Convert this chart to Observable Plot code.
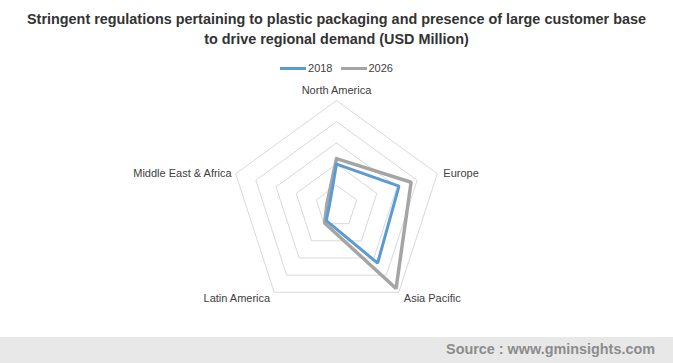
<!DOCTYPE html>
<html><head><meta charset="utf-8">
<script src="https://cdn.jsdelivr.net/npm/d3@7"></script>
<script src="https://cdn.jsdelivr.net/npm/@observablehq/plot@0.6"></script>
<style>
body{margin:0;background:#fff;font-family:"Liberation Sans",Arial,sans-serif;}
#wrap{position:relative;width:673px;height:363px;overflow:hidden;background:#fff}
#title{position:absolute;top:9px;left:0;width:673px;text-align:center;font-weight:bold;font-size:14.4px;line-height:20px;color:#333}
#legend{position:absolute;top:61px;left:0;width:673px;text-align:center;font-size:11px;color:#404040;line-height:14px}
#legend .item{display:inline-block;margin:0 4px}
#legend .sw{display:inline-block;width:26px;height:3px;vertical-align:middle;margin-right:2px;position:relative;top:-1px}
#chart{position:absolute;top:80px;left:0}
#footer{position:absolute;top:337px;left:0;width:673px;height:26px;background:#e8e8e8}
#footer span{position:absolute;right:18px;top:4px;font-weight:bold;font-size:14.4px;color:#8c8c8c}
</style>
</head><body>
<div id="wrap">
<div id="title">Stringent regulations pertaining to plastic packaging and presence of large customer base<br>to drive regional demand (USD Million)</div>
<div id="legend"></div>
<div id="chart"></div>
<div id="footer"><span>Source : www.gminsights.com</span></div>
</div>
<script>
const regions = ["North America","Europe","Asia Pacific","Latin America","Middle East & Africa"];
const years = ["2018","2026"];
const values2018 = [1000,1550,1650,410,170];
const values2026 = [1130,1850,2390,480,235];
const ringTicks = [500,1000,1500,2000,2500];
const yearColors = ["#5B9BD5","#A5A5A5"];

const n = regions.length;
const ang = i => (i % n) * 2 * Math.PI / n;
const px = (v,i) => v * Math.sin(ang(i));
const py = (v,i) => v * Math.cos(ang(i));

// rings
const rings = [];
ringTicks.forEach(t => { for (let i = 0; i <= n; i++) rings.push({ring:t, x:px(t,i), y:py(t,i)}); });
// series polygons
function poly(vals, year){ const a=[]; for(let i=0;i<=n;i++){ a.push({year, x:px(vals[i%n],i), y:py(vals[i%n],i)}); } return a; }
const s2018 = poly(values2018, years[0]);
const s2026 = poly(values2026, years[1]);

const maxV = ringTicks[ringTicks.length-1];
const labelLayout = [
  {anchor:"middle", dx:0, dy:-10},
  {anchor:"start", dx:6, dy:0},
  {anchor:"start", dx:5, dy:6},
  {anchor:"end", dx:-4, dy:6},
  {anchor:"end", dx:-4, dy:0}
];
const labelMarks = regions.map((r,i) => Plot.text([{x:px(maxV,i), y:py(maxV,i), t:r}], {
  x:"x", y:"y", text:"t", textAnchor:labelLayout[i].anchor, dx:labelLayout[i].dx, dy:labelLayout[i].dy,
  fontSize:11, fill:"#404040", fontFamily:"Liberation Sans, Arial, sans-serif"
}));

const R = 106, cx = 336, cy = 126;
const chart = Plot.plot({
  width:673, height:257, margin:0,
  x:{domain:[-maxV,maxV], range:[cx-R, cx+R], axis:null},
  y:{domain:[-maxV,maxV], range:[cy+R, cy-R], axis:null},
  style:{background:"transparent", overflow:"visible"},
  marks:[
    Plot.line(rings, {x:"x", y:"y", z:"ring", stroke:"#d9d9d9", strokeWidth:1}),
    Plot.line(s2026, {x:"x", y:"y", stroke:yearColors[1], strokeWidth:3.5, strokeLinejoin:"miter"}),
    Plot.line(s2018, {x:"x", y:"y", stroke:yearColors[0], strokeWidth:3, strokeLinejoin:"miter"}),
    ...labelMarks
  ]
});
document.getElementById("chart").appendChild(chart);

const leg = document.getElementById("legend");
years.forEach((y,i) => {
  const it = document.createElement("span"); it.className="item";
  const sw = document.createElement("span"); sw.className="sw"; sw.style.background=yearColors[i];
  it.appendChild(sw); it.appendChild(document.createTextNode(y));
  leg.appendChild(it);
});
</script>
</body></html>
